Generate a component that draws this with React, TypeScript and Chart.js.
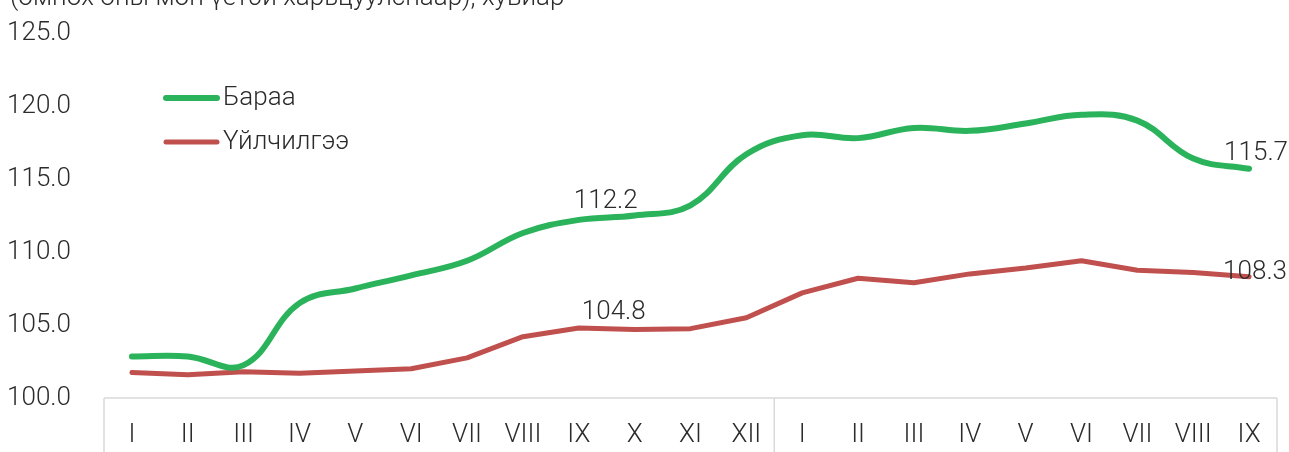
import React, { useEffect, useRef } from "react";
import { Chart, registerables } from "chart.js";

Chart.register(...registerables);

const categories = [
  "I", "II", "III", "IV", "V", "VI", "VII", "VIII", "IX", "X", "XI", "XII",
  "I", "II", "III", "IV", "V", "VI", "VII", "VIII", "IX",
];
const goods = [
  102.85, 102.85, 102.25, 106.5, 107.5, 108.4, 109.4, 111.3, 112.2, 112.5, 113.2, 116.7,
  118.0, 117.8, 118.5, 118.3, 118.8, 119.4, 119.0, 116.4, 115.7,
];
const services = [
  101.75, 101.6, 101.8, 101.7, 101.85, 102.0, 102.75, 104.2, 104.8, 104.7, 104.75, 105.5,
  107.2, 108.2, 107.9, 108.5, 108.9, 109.4, 108.75, 108.6, 108.3,
];
const seriesNames = ["Бараа", "Үйлчилгээ"];
const labelledIndexes = [8, 20];
const titleText = "(өмнөх оны мөн үетэй харьцуулснаар), хувиар";
const yMin = 100;
const yMax = 125;
const yStep = 5;
const yearSplitAfter = 11;

const FONT = "300 26px Roboto";
const TEXT = "#2b2b2b";
const GREEN = "#2bb35c";
const RED = "#c0504d";

export default function App() {
  const ref = useRef<HTMLCanvasElement | null>(null);

  useEffect(() => {
    document.body.style.margin = "0";
    const canvas = ref.current!;
    const labelOffsets: Record<string, { dx: number; dy: number }[]> = {
      "0": [{ dx: 27, dy: -12 }, { dx: 7, dy: -9 }],
      "1": [{ dx: 35, dy: -9 }, { dx: 6, dy: 2 }],
    };

    const overlay = {
      id: "overlay",
      afterDraw(chart: any) {
        const ctx = chart.ctx as CanvasRenderingContext2D;
        const area = chart.chartArea;
        const xs = chart.scales.x;
        const H = chart.height;
        ctx.save();
        // axis box
        ctx.strokeStyle = "#d9d9d9";
        ctx.lineWidth = 1.5;
        ctx.beginPath();
        ctx.moveTo(area.left, area.bottom);
        ctx.lineTo(area.right, area.bottom);
        ctx.moveTo(area.left, area.bottom);
        ctx.lineTo(area.left, H);
        ctx.moveTo(area.right, area.bottom);
        ctx.lineTo(area.right, H);
        const split =
          (xs.getPixelForValue(yearSplitAfter) + xs.getPixelForValue(yearSplitAfter + 1)) / 2;
        ctx.moveTo(split, area.bottom);
        ctx.lineTo(split, H);
        ctx.stroke();

        // title (cut at top)
        ctx.font = FONT;
        ctx.fillStyle = TEXT;
        ctx.textAlign = "left";
        ctx.textBaseline = "alphabetic";
        ctx.fillText(titleText, 10, 5);

        // legend
        const colors = [GREEN, RED];
        const widths = [6, 5];
        const ys = [98, 142];
        ctx.lineCap = "round";
        for (let i = 0; i < 2; i++) {
          ctx.strokeStyle = colors[i];
          ctx.lineWidth = widths[i];
          ctx.beginPath();
          ctx.moveTo(166, ys[i]);
          ctx.lineTo(217, ys[i]);
          ctx.stroke();
          ctx.fillStyle = TEXT;
          ctx.textBaseline = "middle";
          ctx.textAlign = "left";
          ctx.fillText(seriesNames[i], 223, ys[i]);
        }

        // data labels
        ctx.textAlign = "center";
        ctx.textBaseline = "alphabetic";
        chart.data.datasets.forEach((ds: any, di: number) => {
          const meta = chart.getDatasetMeta(di);
          labelledIndexes.forEach((idx, k) => {
            const pt = meta.data[idx];
            const off = labelOffsets[String(di)][k];
            ctx.fillStyle = TEXT;
            ctx.fillText(ds.data[idx].toFixed(1), pt.x + off.dx, pt.y + off.dy);
          });
        });
        ctx.restore();
      },
    };

    const chart = new Chart(canvas, {
      type: "line",
      data: {
        labels: categories,
        datasets: [
          {
            label: seriesNames[0],
            data: goods,
            borderColor: GREEN,
            borderWidth: 6,
            pointRadius: 0,
            tension: 0.4,
            borderCapStyle: "round",
            borderJoinStyle: "round",
          },
          {
            label: seriesNames[1],
            data: services,
            borderColor: RED,
            borderWidth: 5,
            pointRadius: 0,
            tension: 0,
            borderCapStyle: "round",
            borderJoinStyle: "round",
          },
        ],
      },
      options: {
        responsive: false,
        animation: false,
        layout: { padding: { top: 33, right: 12, left: 0, bottom: 0 } },
        plugins: {
          legend: { display: false },
          tooltip: { enabled: false },
          title: { display: false },
        },
        scales: {
          x: {
            offset: true,
            grid: { display: false },
            border: { display: false },
            ticks: {
              color: TEXT,
              font: { family: "Roboto", size: 26, weight: "300" as any },
              padding: 14,
              maxRotation: 0,
              autoSkip: false,
            },
            afterFit: (s: any) => {
              s.height = 54;
              s.paddingLeft = 0;
              s.paddingRight = 0;
            },
          },
          y: {
            min: yMin,
            max: yMax,
            grid: { display: false },
            border: { display: false },
            ticks: {
              stepSize: yStep,
              color: TEXT,
              padding: 25,
              font: { family: "Roboto", size: 26, weight: "300" as any },
              callback: (v: any) => Number(v).toFixed(1),
            },
            afterFit: (s: any) => {
              s.width = 104;
              s.paddingTop = 0;
              s.paddingBottom = 0;
            },
          },
        },
      },
      plugins: [overlay],
    });
    return () => chart.destroy();
  }, []);

  return <canvas ref={ref} width={1289} height={452} style={{ display: "block" }} />;
}
